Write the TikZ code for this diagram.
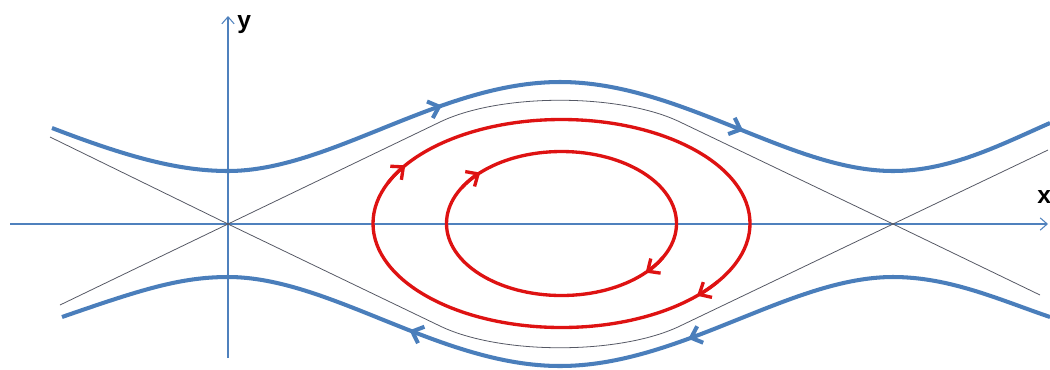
\documentclass[tikz,border=0pt]{standalone}
\usepackage{fontspec}
\setmainfont{Liberation Sans}
\usetikzlibrary{arrows.meta,decorations.markings}
\definecolor{flowblue}{RGB}{74,126,187}
\definecolor{axisblue}{RGB}{79,129,189}
\definecolor{sepgray}{RGB}{85,88,100}
\definecolor{orbitred}{RGB}{222,18,18}
\begin{document}
\begin{tikzpicture}[x=0.02cm, y=-0.02cm,
  axis/.style={axisblue, line width=0.6pt},
  sep/.style={sepgray, line width=0.45pt},
  flow/.style={flowblue, line width=2.3pt},
  orbit/.style={orbitred, line width=1.9pt},
  axtip/.style={-{Straight Barb[length=4pt,width=7pt]}},
  bigtip/.style={-{Straight Barb[length=5.5pt,width=10pt]}},
  lab/.style={font=\bfseries\fontsize{14}{16}\selectfont, anchor=north west, inner sep=0pt},
  fwd/.style={postaction={decorate}, decoration={markings, mark=at position #1 with {\arrow{Straight Barb[length=5.5pt,width=10pt]}}}},
  bwd/.style={postaction={decorate}, decoration={markings, mark=at position #1 with {\arrowreversed{Straight Barb[length=5.5pt,width=10pt]}}}}
]
\useasboundingbox (0,0) rectangle (1050,369);

% key points
\coordinate (S1) at (228,224);
\coordinate (S2) at (893,224);
\coordinate (C) at (561.5,223.5);
\coordinate (xs) at (10,224);
\coordinate (xe) at (1048,224);
\coordinate (ys) at (228,358);
\coordinate (ye) at (228,16);

% axes
\draw[axis, axtip] (xs) -- (xe);
\draw[axis, axtip] (ys) -- (ye);
\node[lab] (ylab) at (237,15) {y};
\node[lab] (xlab) at (1037,190) {x};

% separatrices (thin)
\draw[sep] (50,137) -- (S1) -- (440,326) .. controls (500,355) and (620,355) .. (680,326) -- (S2) -- (1048,150);
\draw[sep] (60,305) -- (S1) -- (440,122) .. controls (500,93) and (620,93) .. (680,122) -- (S2) -- (1040,295);

% outer flow lines (thick blue)
\draw[flow] (52,128) .. controls (130,158) and (180,171) .. (228,171)
  .. controls (330,171) and (440,82) .. (560,82)
  .. controls (680,82) and (790,171) .. (893,171)
  .. controls (950,171) and (1000,145) .. (1050,123);
\draw[flow] (62,317) .. controls (140,290) and (180,277) .. (228,277)
  .. controls (330,277) and (440,366) .. (560,366)
  .. controls (680,366) and (790,277) .. (893,277)
  .. controls (950,277) and (1000,300) .. (1050,317);
% arrows on blue lines
\path[flow, fwd=0.65] (228,171) .. controls (330,171) and (440,82) .. (560,82);
\path[flow, fwd=0.55] (560,82) .. controls (680,82) and (790,171) .. (893,171);
\path[flow, bwd=0.55] (228,277) .. controls (330,277) and (440,366) .. (560,366);
\path[flow, bwd=0.38] (560,366) .. controls (680,366) and (790,277) .. (893,277);

% closed orbits (red)
\draw[orbit] (C) ellipse [x radius=188.5, y radius=104];
\draw[orbit] (C) ellipse [x radius=115, y radius=72];
\draw[orbit, bigtip] (C) ++(203:188.5 and 104) arc[start angle=203, end angle=214, x radius=188.5, y radius=104];
\draw[orbit, bigtip] (C) ++(34:188.5 and 104) arc[start angle=34, end angle=44, x radius=188.5, y radius=104];
\draw[orbit, bigtip] (C) ++(210:115 and 72) arc[start angle=210, end angle=225, x radius=115, y radius=72];
\draw[orbit, bigtip] (C) ++(28:115 and 72) arc[start angle=28, end angle=43, x radius=115, y radius=72];
\end{tikzpicture}
\end{document}
